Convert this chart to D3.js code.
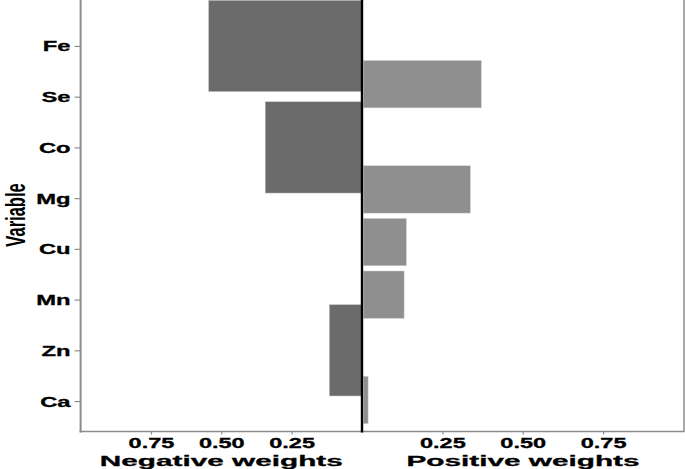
<!DOCTYPE html>
<html>
<head>
<meta charset="utf-8">
<script src="https://cdn.jsdelivr.net/npm/d3@7"></script>
<style>
  html, body { margin: 0; padding: 0; background: #ffffff; }
  svg { display: block; }
  text { font-family: "Liberation Sans", Arial, sans-serif; }
</style>
</head>
<body>
<svg id="chart" width="685" height="469"></svg>
<script>
// ---- data ----
const variables = ["Fe", "Se", "Co", "Mg", "Cu", "Mn", "Zn", "Ca"];
const negativeVars = ["Fe", "Co", "Zn"];
const negativeWeights = [0.545, 0.344, 0.116];
const positiveVars = ["Se", "Mg", "Cu", "Mn", "Ca"];
const positiveWeights = [0.371, 0.337, 0.138, 0.131, 0.019];
const tickValues = [0.25, 0.50, 0.75];
const tickLabels = ["0.25", "0.50", "0.75"];
const yTitle = "Variable";
const negTitle = "Negative weights";
const posTitle = "Positive weights";

// ---- layout ----
const svg = d3.select("#chart");
const pLeft = 80.6, zeroX = 362, pRight = 683.5, pTop = 0, pBottom = 431.5;
const axisColor = "#8c8c8c";
const stretch = 1.7;

const xNeg = d3.scaleLinear().domain([0, 1]).range([zeroX, pLeft]);
const xPos = d3.scaleLinear().domain([0, 1]).range([zeroX, pRight]);
const yNeg = d3.scalePoint().domain(variables).range([15.5, pBottom]).padding(0.6);
const yPos = d3.scalePoint().domain(variables).range([pTop, pBottom]).padding(0.6);

const negData = negativeVars.map((v, i) => ({ v, w: negativeWeights[i] }));
const posData = positiveVars.map((v, i) => ({ v, w: positiveWeights[i] }));

const plot = svg.append("g");
plot.append("clipPath").attr("id", "clip")
  .append("rect").attr("x", 0).attr("y", pTop).attr("width", 685).attr("height", pBottom - pTop);

const bars = plot.append("g").attr("clip-path", "url(#clip)");
const negH = yNeg.step() * 1.8;
bars.selectAll("rect.neg").data(negData).join("rect")
  .attr("class", "neg")
  .attr("x", d => xNeg(d.w))
  .attr("width", d => xNeg(0) - xNeg(d.w))
  .attr("y", d => yNeg(d.v) - negH / 2)
  .attr("height", negH)
  .attr("fill", "#6b6b6b")
  .attr("stroke", "#c8c8c8").attr("stroke-width", 0.5);

const posH = yPos.step() * 0.9;
bars.selectAll("rect.pos").data(posData).join("rect")
  .attr("class", "pos")
  .attr("x", d => xPos(0) + 1.5)
  .attr("width", d => xPos(d.w) - xPos(0) - 1.5)
  .attr("y", d => yPos(d.v) - posH / 2)
  .attr("height", posH)
  .attr("fill", "#8f8f8f")
  .attr("stroke", "#d0d0d0").attr("stroke-width", 0.5);

// right panel border
plot.append("line")
  .attr("x1", 684).attr("x2", 684).attr("y1", pTop).attr("y2", pBottom)
  .attr("stroke", axisColor).attr("stroke-width", 1.5);

// y axis
const yAxis = plot.append("g").attr("transform", `translate(${pLeft},0)`)
  .call(d3.axisLeft(yNeg).tickSize(6).tickSizeOuter(0));
yAxis.select(".domain").attr("stroke", axisColor).attr("stroke-width", 2)
  .attr("d", `M0,${pTop}V${pBottom + 1}`);
yAxis.selectAll(".tick line").attr("stroke", axisColor).attr("stroke-width", 1.2);
yAxis.selectAll(".tick text")
  .attr("x", -10 / stretch).attr("dy", "0.36em")
  .attr("transform", `scale(${stretch},1)`)
  .attr("fill", "#000").attr("font-size", 14).attr("font-weight", "bold")
  .attr("stroke", "#000").attr("stroke-width", 0.3)
  .attr("font-family", "'Liberation Sans', Arial, sans-serif");

// x axes
function xAxisFor(scale) {
  return d3.axisBottom(scale).tickValues(tickValues)
    .tickFormat((d, i) => tickLabels[i]).tickSize(3).tickSizeOuter(0);
}
[xNeg, xPos].forEach(sc => {
  const g = plot.append("g").attr("transform", `translate(0,${pBottom})`).call(xAxisFor(sc));
  g.select(".domain").remove();
  g.selectAll(".tick line").attr("stroke", axisColor).attr("stroke-width", 1.2);
  g.selectAll(".tick text")
    .attr("x", 0).attr("y", 17).attr("dy", 0)
    .attr("transform", `scale(1.68,1)`)
    .attr("fill", "#000").attr("font-size", 14).attr("font-weight", "bold")
    .attr("stroke", "#000").attr("stroke-width", 0.3)
    .attr("font-family", "'Liberation Sans', Arial, sans-serif");
});
// bottom axis line
plot.append("line")
  .attr("x1", pLeft - 1).attr("x2", 684.5).attr("y1", pBottom).attr("y2", pBottom)
  .attr("stroke", axisColor).attr("stroke-width", 1.5);

// zero line
plot.append("line")
  .attr("x1", xNeg(0)).attr("x2", xNeg(0)).attr("y1", pTop).attr("y2", pBottom + 1)
  .attr("stroke", "#000").attr("stroke-width", 2.4);

// titles
svg.append("text")
  .attr("transform", `translate(${(pLeft + zeroX) / 2},466) scale(1.92,1)`)
  .attr("text-anchor", "middle").attr("font-size", 15.5).attr("font-weight", "bold")
  .attr("stroke", "#000").attr("stroke-width", 0.3)
  .text(negTitle);
svg.append("text")
  .attr("transform", `translate(${(zeroX + 684) / 2},466) scale(1.92,1)`)
  .attr("text-anchor", "middle").attr("font-size", 15.5).attr("font-weight", "bold")
  .attr("stroke", "#000").attr("stroke-width", 0.3)
  .text(posTitle);
svg.append("text")
  .attr("transform", `translate(24.5,215) scale(${stretch},1) rotate(-90)`)
  .attr("text-anchor", "middle").attr("font-size", 16.5).attr("font-weight", "bold")
  .text(yTitle);
</script>
</body>
</html>
